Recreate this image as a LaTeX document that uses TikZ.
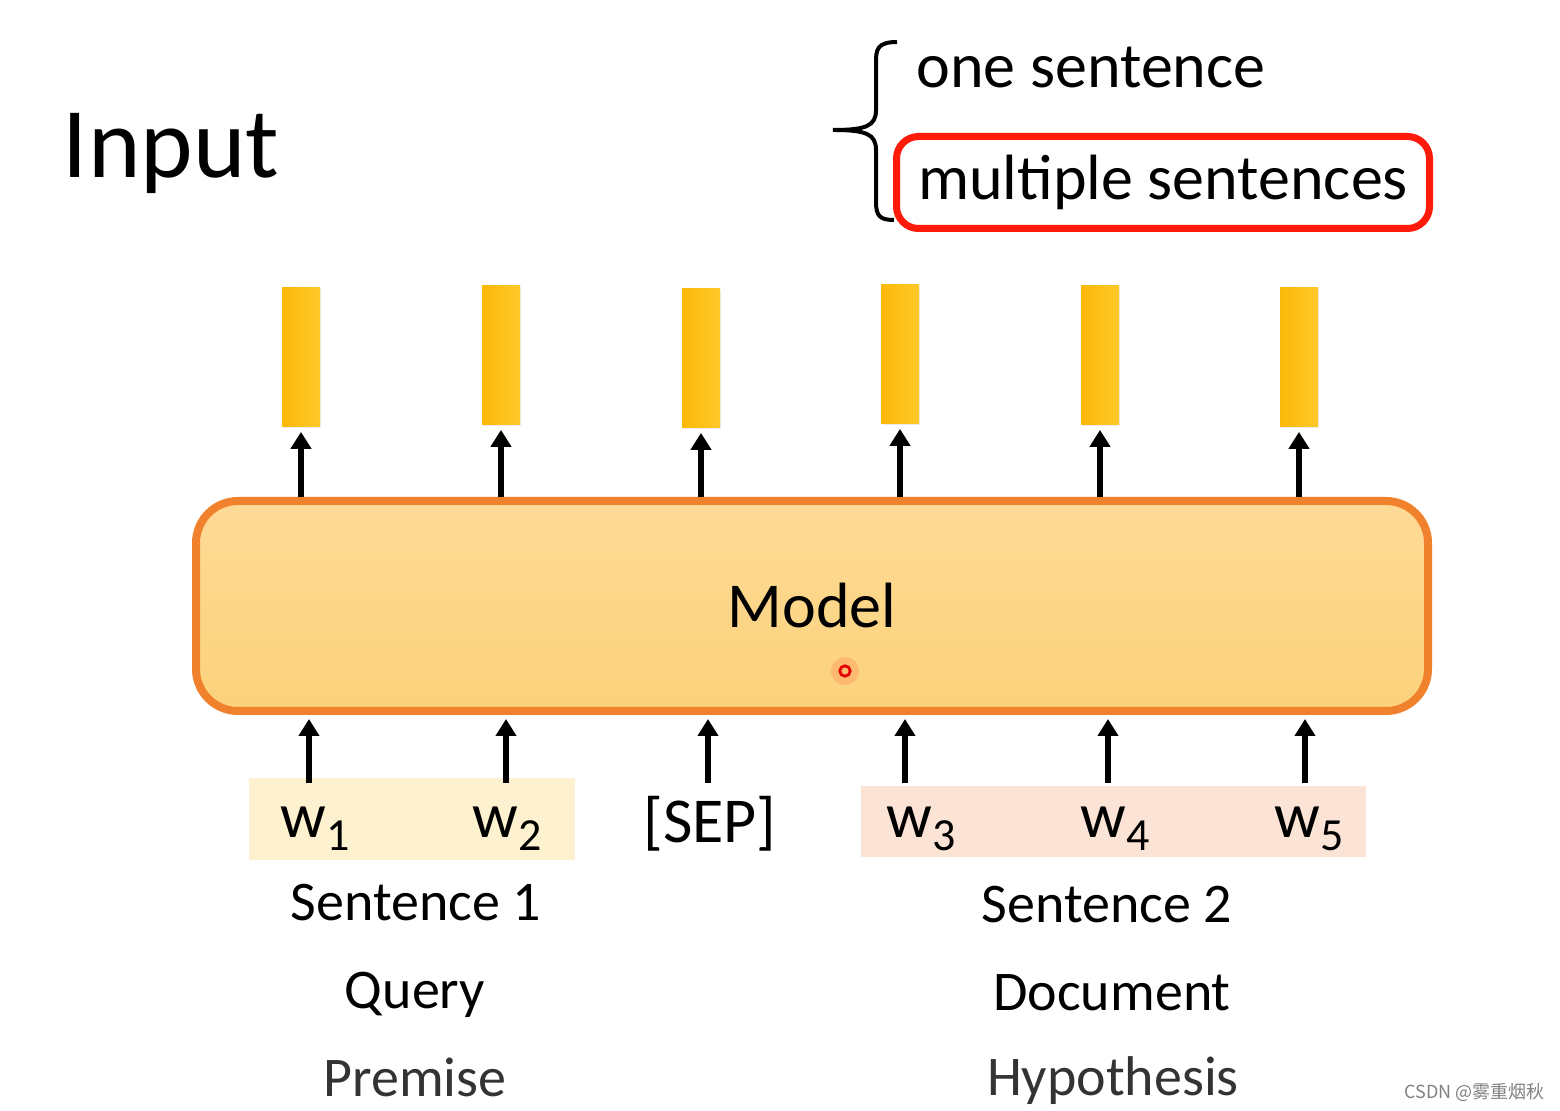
\documentclass[tikz,border=0pt]{standalone}
\usepackage{fontspec}
\setmainfont{Carlito}
\newfontfamily\cjk{Noto Sans CJK SC}
\usetikzlibrary{arrows.meta,shadows}
\pgfdeclarelayer{background}
\pgfsetlayers{background,main}

\definecolor{barleft}{HTML}{FBB908}
\definecolor{barright}{HTML}{FFC82A}
\definecolor{modelline}{HTML}{F0822D}
\definecolor{modeltop}{HTML}{FDDA96}
\definecolor{modelbot}{HTML}{FCD27B}
\definecolor{firstband}{HTML}{FEF1D0}
\definecolor{secondband}{HTML}{FBE4D5}
\definecolor{boxred}{HTML}{FF1A0A}

\newcommand{\wtok}[1]{w\raisebox{-6.5pt}{\fontsize{23}{23}\selectfont #1}}

\tikzset{
  big/.style={font=\fontsize{32}{38}\selectfont, inner sep=0pt},
  sentname/.style={font=\fontsize{28}{34}\selectfont, inner sep=0pt, anchor=base},
  bar/.style={minimum width=19pt, minimum height=69.5pt, inner sep=0pt,
    left color=barleft, right color=barright,
    drop shadow={shadow xshift=0.6pt, shadow yshift=-0.8pt, opacity=0.15}},
  uparrow/.style={line width=2.8pt, -{Triangle[width=10pt,length=8.5pt]}},
}

\begin{document}
\begin{tikzpicture}[x=0.5pt,y=-0.5pt]
\useasboundingbox (0,0) rectangle (1560,1111);

\node[font=\fontsize{50}{58}\selectfont, inner sep=0pt, anchor=base] (title) at (171,178) {Input};

\node[big, anchor=base] (one) at (1091,88) {one sentence};
\node[big, draw=boxred, line width=3.5pt, rounded corners=11pt, fill=white,
  minimum width=266.5pt, minimum height=46pt] (multi) at (1163,182.5) {multiple sentences};
\draw[line width=2pt] (897,42) .. controls (877,42) and (876,50) .. (876,62) -- (876,110)
  .. controls (876,126) and (866,130) .. (833,130)
  .. controls (866,130) and (876,134) .. (876,150) -- (876,202)
  .. controls (876,216) and (880,220) .. (894,220);

\begin{pgfonlayer}{background}
\node[fill=firstband, minimum width=163pt, minimum height=41pt, inner sep=0pt] (band1) at (412,819) {};
\node[fill=secondband, minimum width=252.5pt, minimum height=35.5pt, inner sep=0pt] (band2) at (1113.5,821.5) {};
\end{pgfonlayer}

\node[big, draw=modelline, line width=4pt, rounded corners=21pt,
  top color=modeltop, bottom color=modelbot,
  minimum width=616pt, minimum height=105pt] (model) at (812,606) {Model};
\fill[red, opacity=0.12] (845,671) circle (7pt);
\draw[red!90!black, line width=1.4pt] (845,671) circle (2.6pt);

\node[bar] (b1) at (301,357) {};
\node[bar] (b2) at (501,355) {};
\node[bar] (b3) at (701,358) {};
\node[bar] (b4) at (900,354) {};
\node[bar] (b5) at (1100,355) {};
\node[bar] (b6) at (1299,357) {};

\draw[uparrow, shorten >=2.5pt] (model.north -| b1) -- (b1.south);
\draw[uparrow, shorten >=2.5pt] (model.north -| b2) -- (b2.south);
\draw[uparrow, shorten >=2.5pt] (model.north -| b3) -- (b3.south);
\draw[uparrow, shorten >=2.5pt] (model.north -| b4) -- (b4.south);
\draw[uparrow, shorten >=2.5pt] (model.north -| b5) -- (b5.south);
\draw[uparrow, shorten >=2.5pt] (model.north -| b6) -- (b6.south);

\node[big, anchor=base] (w1) at (315,838) {\wtok{1}};
\node[big, anchor=base] (w2) at (507,838) {\wtok{2}};
\node[big, anchor=base] (sep) at (710,843) {[SEP]};
\node[big, anchor=base] (w3) at (921,838) {\wtok{3}};
\node[big, anchor=base] (w4) at (1115,838) {\wtok{4}};
\node[big, anchor=base] (w5) at (1309,838) {\wtok{5}};

\coordinate (in1) at (309,783);
\coordinate (in2) at (506,783);
\coordinate (in3) at (708,783);
\coordinate (in4) at (905,783);
\coordinate (in5) at (1108,783);
\coordinate (in6) at (1305,783);
\draw[uparrow, shorten >=2pt] (in1) -- (in1 |- model.south);
\draw[uparrow, shorten >=2pt] (in2) -- (in2 |- model.south);
\draw[uparrow, shorten >=2pt] (in3) -- (in3 |- model.south);
\draw[uparrow, shorten >=2pt] (in4) -- (in4 |- model.south);
\draw[uparrow, shorten >=2pt] (in5) -- (in5 |- model.south);
\draw[uparrow, shorten >=2pt] (in6) -- (in6 |- model.south);

\node[sentname] (s1) at (416,921) {Sentence 1};
\node[sentname] (query) at (415,1009) {Query};
\node[sentname, text=black!80] (premise) at (415,1097) {Premise};
\node[sentname] (s2) at (1107,923) {Sentence 2};
\node[sentname] (doc) at (1112,1011) {Document};
\node[sentname, text=black!80] (hypo) at (1113,1096) {Hypothesis};

\node[font=\cjk\fontsize{9}{11}\selectfont, text=black!50, inner sep=0pt, anchor=base east] (mark) at (1545,1099) {CSDN @雾重烟秋};
\end{tikzpicture}
\end{document}
